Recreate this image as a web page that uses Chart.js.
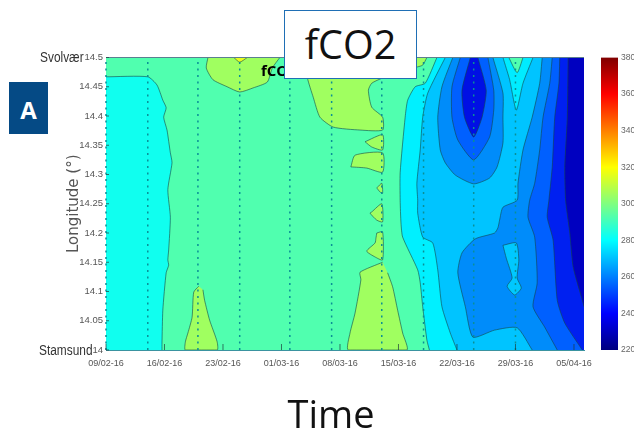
<!DOCTYPE html>
<html>
<head>
<meta charset="utf-8">
<title>fCO2</title>
<script src="https://cdn.jsdelivr.net/npm/chart.js@4"></script>
<style>
    html, body { margin: 0; background: #fff; overflow: hidden; }
    #page { position: relative; width: 634px; height: 434px; }
    canvas { position: absolute; top: 0; filter: blur(0.45px); }
    #principal { left: 0; }
    #barra { left: 595px; }
    .sob { position: absolute; left: 261px; top: 60px; font: bold 15px "Open Sans", sans-serif; color: #000; }
    .titulo {
        position: absolute; left: 284px; top: 10px; width: 131px; height: 67px;
        background: #fff; border: 1.5px solid #1f6fb5; text-align: center;
        font: 39.5px/66px "Open Sans", sans-serif; color: #111;
    }
    .letra {
        position: absolute; left: 9px; top: 82px; width: 39px; height: 52px; background: #054a85;
        color: #fff; text-align: center; font: bold 24px/56px "Open Sans", sans-serif;
    }
    .tempo { position: absolute; left: 231px; top: 387px; width: 200px; text-align: center; font: 38px/52px "Open Sans", sans-serif; color: #111; }
</style>
</head>
<body>
<div id="page">
    <canvas id="principal" width="634" height="434"></canvas>
    <canvas id="barra" width="39" height="434"></canvas>
    <div class="sob">fCO2</div>
    <div class="titulo">fCO2</div>
    <div class="letra">A</div>
    <div class="tempo">Time</div>
</div>
<script>
// x = days since 09/02-16, y = longitude
const xTickLabels = ['09/02-16', '16/02-16', '23/02-16', '01/03-16', '08/03-16', '15/03-16', '22/03-16', '29/03-16', '05/04-16'];
const yTickLabels = ['14', '14.05', '14.1', '14.15', '14.2', '14.25', '14.3', '14.35', '14.4', '14.45', '14.5'];
const sampleDays = [0, 5, 11, 16, 22, 27, 33, 38, 44, 49];
const colorbarTicks = [220, 240, 260, 280, 300, 320, 340, 360, 380];
const lastDay = 57.2;

const leftBand = [[0,14.467],[5,14.467],[6.1,14.453],[6.8,14.427],[7.2,14.414],[6.9,14.398],[7.3,14.376],[7.7,14.337],[7.9,14.32],[7.4,14.274],[7.7,14.227],[7.5,14.171],[7.4,14.154],[7.5,14.145],[7.2,14.132],[6.8,14.068],[6.7,14.012],[6.7,14]];
const patchTop1 = [[12.2,14.5],[12,14.482],[12.8,14.462],[14.5,14.45],[16,14.441],[17.6,14.448],[19.3,14.458],[19.9,14.482],[20.8,14.5]];
const patchTip = [[15.3,14.5],[16,14.492],[16.9,14.5]];
const patchTop2 = [[23.8,14.5],[24.1,14.465],[24.8,14.432],[25.6,14.398],[27.2,14.381],[30.4,14.376],[33.1,14.376],[33.1,14.398],[31.8,14.415],[31.4,14.444],[31.8,14.456],[33.1,14.465],[35.2,14.475],[37.3,14.484],[37.9,14.487],[38.4,14.5]];
const patchSmall1 = [[31,14.356],[33.1,14.368],[33.1,14.342],[31.8,14.347]];
const patchSmall2 = [[29.3,14.313],[29.8,14.333],[33.1,14.337],[33.1,14.304],[31.2,14.311]];
const patchSmall3 = [[32.4,14.277],[33,14.285],[33.1,14.268],[32.8,14.27]];
const patchSmall4 = [[31.8,14.236],[33,14.25],[33.1,14.219],[32.4,14.222],[31.6,14.234]];
const patchSmall5 = [[32.4,14.2],[33.1,14.202],[33.1,14.154],[32.2,14.159],[31.2,14.169],[32.2,14.183],[32.3,14.191]];
const patchBottom1 = [[11.1,14.109],[10.5,14.099],[10.3,14.056],[9.8,14.029],[9.5,14.014],[9.5,14],[13.3,14],[13.3,14.014],[12.4,14.051],[11.8,14.085],[11.6,14.103]];
const patchBottom2 = [[33.1,14.15],[30.4,14.133],[30.5,14.12],[29.8,14.063],[29.2,14.029],[29,14],[36,14],[35.5,14.029],[34.9,14.068],[34.3,14.108],[33.7,14.132]];
const front1 = [[39.6,14.5],[38.2,14.456],[37,14.45],[36.1,14.427],[35.8,14.398],[35.2,14.303],[35.2,14.256],[35.3,14.217],[35.5,14.193],[37.3,14.137],[37.6,14.115],[37.9,14.074],[38.4,14.017],[38.7,14]];
const front2 = [[40.6,14.5],[38.5,14.439],[37.9,14.398],[37.6,14.342],[37.2,14.285],[37.3,14.256],[37.3,14.234],[37.9,14.193],[39.1,14.183],[39.7,14.137],[40.2,14.074],[41.2,14.029],[42,14]];
const minimum1 = [[41.5,14.5],[40.2,14.45],[39.7,14.398],[40,14.342],[40.6,14.32],[41.8,14.299],[44,14.284],[45.9,14.294],[46.8,14.313],[47.5,14.354],[47.5,14.398],[47.5,14.439],[46.3,14.5]];
const minimum2 = [[42.4,14.5],[41.4,14.45],[41.4,14.398],[42.1,14.359],[44,14.325],[45.9,14.364],[46.4,14.41],[46.4,14.444],[45.7,14.5]];
const minimum3 = [[43.6,14.5],[42.6,14.444],[42.9,14.398],[44,14.364],[45,14.398],[45.5,14.444],[44.5,14.5]];
const wedge1 = [[47.5,14.5],[48.3,14.462],[49.1,14.41],[49.9,14.456],[51.1,14.5]];
const wedge2 = [[48.2,14.5],[49.2,14.474],[49.9,14.5]];
const right1 = [[52.2,14.5],[51.9,14.456],[51,14.398],[49.9,14.342],[49.3,14.285],[49.2,14.256],[47.5,14.244],[47.1,14.222],[46.9,14.209],[46.5,14.2],[44.2,14.19],[42.6,14.166],[42.1,14.132],[43,14.074],[43.9,14.022],[46.5,14.034],[49.2,14.038],[51,14]];
const island = [[47.5,14.179],[49.1,14.183],[49.4,14.154],[49.2,14.123],[49.7,14.106],[48.9,14.094],[48,14.109],[48.6,14.123],[47.9,14.157]];
const right2 = [[53.4,14.5],[53.1,14.456],[52.3,14.398],[51.9,14.342],[51.3,14.285],[50.7,14.256],[50.5,14.227],[51.3,14.193],[51.6,14.115],[51.1,14.074],[52.5,14.039],[54,14]];
const right3 = [[54.3,14.5],[54.2,14.456],[53.7,14.398],[53.4,14.313],[53,14.256],[52.8,14.227],[53.5,14.188],[54,14.085],[54.9,14.046],[57,14]];
const right4 = [[55.3,14.5],[55.2,14.398],[54.9,14.313],[55,14.256],[55.5,14.2],[55.9,14.142],[57.1,14.08],[57.2,14.074]];

const CORNERS_RIGHT = [[lastDay, 14], [lastDay, 14.5]];
const VERDE = '#a0ff60';

// painted from back to front
const camadas = [
    { pontos: [[0, 14], [lastDay, 14], [lastDay, 14.5], [0, 14.5]], cor: '#50ffaf', semLinha: true },
    { pontos: leftBand, cor: '#10ffef', cantos: [[0, 14]] },
    { pontos: patchTop1, cor: VERDE },
    { pontos: patchTip, cor: '#e8ff20' },
    { pontos: patchTop2, cor: VERDE },
    { pontos: patchSmall1, cor: VERDE, fechado: true },
    { pontos: patchSmall2, cor: VERDE, fechado: true },
    { pontos: patchSmall3, cor: VERDE, fechado: true },
    { pontos: patchSmall4, cor: VERDE, fechado: true },
    { pontos: patchSmall5, cor: VERDE, fechado: true },
    { pontos: patchBottom1, cor: VERDE },
    { pontos: patchBottom2, cor: VERDE },
    { pontos: front1, cor: '#00f0ff', cantos: CORNERS_RIGHT },
    { pontos: front2, cor: '#00c4ff', cantos: CORNERS_RIGHT },
    { pontos: minimum1, cor: '#008cfa' },
    { pontos: minimum2, cor: '#0060ff' },
    { pontos: minimum3, cor: '#0010e4' },
    { pontos: wedge1, cor: '#00ecff' },
    { pontos: wedge2, cor: '#50ffb0' },
    { pontos: right1, cor: '#008cfa', cantos: CORNERS_RIGHT },
    { pontos: island, cor: '#00c8ff', fechado: true },
    { pontos: right2, cor: '#0060ff', cantos: CORNERS_RIGHT },
    { pontos: right3, cor: '#0020f0', cantos: CORNERS_RIGHT },
    { pontos: right4, cor: '#0000c0', cantos: [[lastDay, 14.5]] },
];

const FONTE_EIXO = '"Liberation Sans", sans-serif';
const xy = par => ({ x: par[0], y: par[1] });

const datasets = camadas.map((c, i) => ({
    data: (c.fechado ? [...c.pontos, c.pontos[0]] : c.pontos).map(xy),
    showLine: !c.semLinha,
    borderColor: 'rgba(20, 70, 70, 0.75)',
    borderWidth: 0.8,
    tension: 0.2,
    pointRadius: 0,
    corFundo: c.cor,
    cantos: c.cantos || [],
    order: 100 - i,
}));

sampleDays.forEach(dia => datasets.push({
    data: [xy([dia, 14]), xy([dia, 14.5])],
    showLine: true,
    borderColor: '#0a8f96',
    borderWidth: 1.5,
    borderDash: [2, 4.5],
    pointRadius: 0,
    clip: false,
    order: 1,
}));

datasets.push({
    data: [xy([0, 14.5]), xy([lastDay, 14.5])],
    showLine: true,
    borderColor: '#5b7f90',
    borderWidth: 1,
    pointRadius: 0,
    clip: false,
    order: 0,
});

const pintarContornos = {
    id: 'pintarContornos',
    beforeDatasetDraw(chart, args) {
        const ds = chart.data.datasets[args.index];
        if (!ds.corFundo) return;
        const { ctx, scales } = chart;
        const pts = args.meta.data;
        ctx.save();
        ctx.beginPath();
        ctx.moveTo(pts[0].x, pts[0].y);
        // same curve the library uses for the line on top
        for (let i = 1; i < pts.length; i++) {
            const a = pts[i - 1], b = pts[i];
            if (a.cp2x === undefined || b.cp1x === undefined) ctx.lineTo(b.x, b.y);
            else ctx.bezierCurveTo(a.cp2x, a.cp2y, b.cp1x, b.cp1y, b.x, b.y);
        }
        ds.cantos.forEach(c => ctx.lineTo(scales.x.getPixelForValue(c[0]), scales.y.getPixelForValue(c[1])));
        ctx.closePath();
        ctx.fillStyle = ds.corFundo;
        ctx.fill();
        ctx.restore();
    },
    afterDraw(chart) {
        const { ctx, scales, chartArea } = chart;
        ctx.save();
        // ticks pointing inside, and the two station names
        ctx.strokeStyle = 'rgba(30, 60, 60, 0.7)';
        ctx.lineWidth = 1;
        ctx.beginPath();
        scales.x.ticks.forEach(t => {
            const x = scales.x.getPixelForValue(t.value);
            ctx.moveTo(x, chartArea.bottom);
            ctx.lineTo(x, chartArea.bottom - 6);
        });
        scales.y.ticks.forEach(t => {
            const y = scales.y.getPixelForValue(t.value);
            ctx.moveTo(chartArea.left, y);
            ctx.lineTo(chartArea.left + 3, y);
        });
        ctx.stroke();
        ctx.fillStyle = '#333';
        ctx.font = `14px ${FONTE_EIXO}`;
        ctx.textBaseline = 'middle';
        ctx.scale(0.85, 1);
        ctx.fillText('Svolvær', 40 / 0.85, scales.y.getPixelForValue(14.5) + 1);
        ctx.fillText('Stamsund', 39 / 0.85, scales.y.getPixelForValue(14) + 1);
        ctx.restore();
    },
};

new Chart(document.getElementById('principal'), {
    type: 'scatter',
    data: { datasets },
    plugins: [pintarContornos],
    options: {
        responsive: false,
        animation: false,
        layout: { padding: { top: 57.5, right: 50 } },
        plugins: { legend: { display: false }, tooltip: { enabled: false } },
        scales: {
            x: {
                type: 'linear',
                min: 0,
                max: lastDay,
                grid: { display: false, drawTicks: false },
                border: { color: '#3a93a0', width: 1 },
                afterFit: escala => { escala.height = 84; },
                ticks: {
                    stepSize: 7,
                    includeBounds: false,
                    autoSkip: false,
                    maxRotation: 0,
                    padding: 8,
                    color: '#555',
                    font: { family: FONTE_EIXO, size: 9 },
                    callback: (valor, i) => xTickLabels[i],
                },
            },
            y: {
                type: 'linear',
                min: 14,
                max: 14.5,
                grid: { display: false, drawTicks: false },
                border: { display: false },
                afterFit: escala => { escala.width = 106; },
                title: {
                    display: true,
                    text: 'Longitude (°)',
                    color: '#555',
                    font: { family: 'DejaVu Sans', size: 15 },
                    padding: { top: 65, bottom: 0 },
                },
                ticks: {
                    stepSize: 0.05,
                    autoSkip: false,
                    padding: 3,
                    color: '#555',
                    font: { family: FONTE_EIXO, size: 9.5 },
                    callback: (valor, i) => yTickLabels[i],
                },
            },
        },
    },
});

const jetStops = [[0, '#00007f'], [0.125, '#0000ff'], [0.375, '#00ffff'], [0.625, '#ffff00'], [0.875, '#ff0000'], [1, '#7f0000']];

new Chart(document.getElementById('barra'), {
    type: 'bar',
    data: {
        labels: ['fCO2'],
        datasets: [{
            data: [[colorbarTicks[0], colorbarTicks[colorbarTicks.length - 1]]],
            barPercentage: 1,
            categoryPercentage: 1,
            borderWidth: 0,
            backgroundColor: contexto => {
                const { ctx, chartArea } = contexto.chart;
                if (!chartArea) return '#00ffff';
                const gradiente = ctx.createLinearGradient(0, chartArea.bottom, 0, chartArea.top);
                jetStops.forEach(s => gradiente.addColorStop(s[0], s[1]));
                return gradiente;
            },
        }],
    },
    options: {
        responsive: false,
        animation: false,
        layout: { padding: { top: 57.5, left: 6, bottom: 84 } },
        plugins: { legend: { display: false }, tooltip: { enabled: false } },
        scales: {
            x: { display: false },
            y: {
                position: 'right',
                min: 220,
                max: 380,
                grid: { display: false, drawTicks: false },
                border: { display: false },
                afterFit: escala => { escala.width = 16; },
                ticks: {
                    stepSize: 20,
                    padding: 3,
                    color: '#666',
                    font: { family: FONTE_EIXO, size: 8.5 },
                },
            },
        },
    },
});
</script>
</body>
</html>
